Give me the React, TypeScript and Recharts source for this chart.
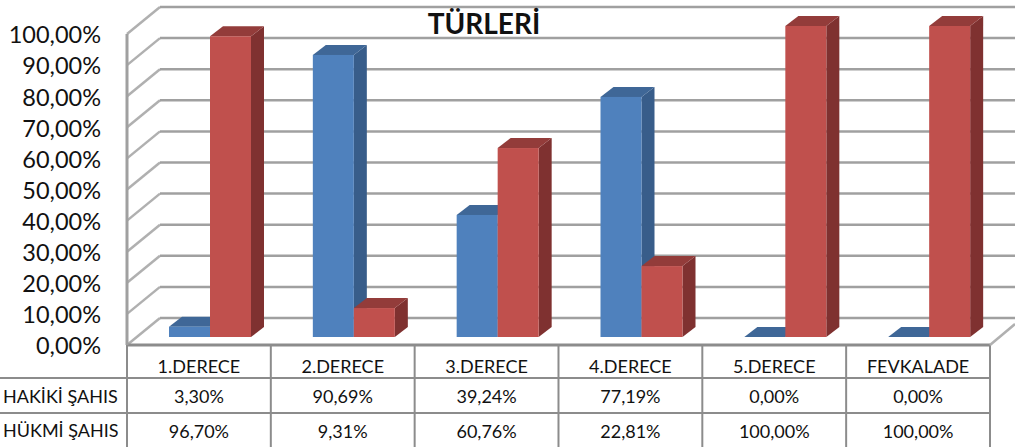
import { BarChart, Bar, XAxis, YAxis, CartesianGrid } from "recharts";

const categories = ["1.DERECE", "2.DERECE", "3.DERECE", "4.DERECE", "5.DERECE", "FEVKALADE"];
const hakiki = [3.3, 90.69, 39.24, 77.19, 0, 0];
const hukmi = [96.7, 9.31, 60.76, 22.81, 100, 100];
const yTicks = [0, 10, 20, 30, 40, 50, 60, 70, 80, 90, 100];
const rowNames = ["HAKİKİ ŞAHIS", "HÜKMİ ŞAHIS"];

const data = categories.map((name, i) => ({ name, hakiki: hakiki[i], hukmi: hukmi[i] }));

const W = 1015;
const H = 447;
const FONT = "Lato, Carlito, sans-serif";
const LINE = "#8c8c8c";
const fmt = (v: number) => v.toFixed(2).replace(".", ",") + "%";

// depth of the fake 3d floor
const WALL_X = 33;
const WALL_Y = -27;
// bars stand a bit inside the floor
const BAR_DX = 11;
const BAR_DY = -8;
const SIDE_X = 13;
const SIDE_Y = -10;

const Box3D = (props: any) => {
  const { x, y, width, height, face, side, top } = props;
  const l = x + BAR_DX;
  const r = l + width;
  const t = y + BAR_DY;
  const b = t + height;
  return (
    <g>
      <path
        d={`M${r},${t} L${r + SIDE_X},${t + SIDE_Y} L${r + SIDE_X},${b + SIDE_Y} L${r},${b} Z`}
        fill={side}
      />
      <path
        d={`M${l},${t} L${l + SIDE_X},${t + SIDE_Y} L${r + SIDE_X},${t + SIDE_Y} L${r},${t} Z`}
        fill={top}
      />
      <rect x={l} y={t} width={width} height={height} fill={face} />
    </g>
  );
};

const WallLine = (props: any) => {
  const { x1, x2, y1 } = props;
  return (
    <g>
      <line x1={x1} y1={y1} x2={x1 + WALL_X} y2={y1 + WALL_Y} stroke="#b0b0b0" strokeWidth={2.5} />
      <line x1={x1 + WALL_X} y1={y1 + WALL_Y} x2={x2 + WALL_X} y2={y1 + WALL_Y} stroke="#a0a0a0" strokeWidth={2.5} />
    </g>
  );
};

const TableTick = (props: any) => {
  const { x, y, index, payload } = props;
  const colW = 143.8;
  const left = x - colW / 2;
  const top = y;
  const rows = [payload.value, fmt(hakiki[index]), fmt(hukmi[index])];
  const rowY = [top + 23, top + 53, top + 88];
  return (
    <g>
      <line x1={left + colW} y1={top} x2={left + colW} y2={H} stroke={LINE} strokeWidth={2} />
      {rows.map((t, i) => (
        <text
          key={i}
          x={x}
          y={rowY[i]}
          textAnchor="middle"
          dominantBaseline="middle"
          fontSize={18}
          fontFamily={FONT}
          fill="#111"
        >
          {t}
        </text>
      ))}
    </g>
  );
};

export default function App() {
  return (
    <div style={{ position: "absolute", left: 0, top: 0, width: W, height: H, background: "#fff", overflow: "hidden" }}>
      <BarChart
        width={W}
        height={H}
        data={data}
        barSize={41}
        barGap={0}
        margin={{ top: 34, right: 25, bottom: 0, left: 0 }}
      >
        <CartesianGrid vertical={false} horizontalValues={yTicks} horizontal={(p: any) => <WallLine {...p} />} />
        <XAxis
          dataKey="name"
          height={102}
          interval={0}
          tickLine={false}
          tickSize={0}
          tickMargin={0}
          axisLine={{ stroke: LINE, strokeWidth: 3 }}
          tick={<TableTick />}
        />
        <YAxis
          width={127}
          domain={[0, 100]}
          ticks={yTicks}
          interval={0}
          tickFormatter={fmt}
          tickLine={false}
          tickSize={0}
          tickMargin={26}
          axisLine={{ stroke: "#a0a0a0", strokeWidth: 3 }}
          tick={{ fontSize: 23.5, fontFamily: FONT, fill: "#111", dy: 1 }}
        />
        <Bar
          dataKey="hakiki"
          isAnimationActive={false}
          shape={<Box3D face="#4f81bd" side="#385d8a" top="#3f6797" />}
        />
        <Bar
          dataKey="hukmi"
          isAnimationActive={false}
          shape={<Box3D face="#c0504d" side="#7f3130" top="#933c3a" />}
        />
      </BarChart>

      {/* right edge of the floor, table rules and text that has no axis */}
      <svg width={W} height={H} style={{ position: "absolute", left: 0, top: 0, pointerEvents: "none" }}>
        <line x1={990} y1={345} x2={1015} y2={324} stroke="#b0b0b0" strokeWidth={2.5} />
        <line x1={127} y1={345} x2={127} y2={H} stroke={LINE} strokeWidth={2} />
        <line x1={0} y1={378} x2={990} y2={378} stroke={LINE} strokeWidth={2} />
        <line x1={0} y1={413} x2={990} y2={413} stroke={LINE} strokeWidth={2} />
        {rowNames.map((t, i) => (
          <text key={t} x={3} y={398 + i * 34} dominantBaseline="middle" fontSize={18} fontFamily={FONT} fill="#111">
            {t}
          </text>
        ))}
        <text x={484} y={27} textAnchor="middle" dominantBaseline="middle" fontSize={28} fontWeight={700} fontFamily={FONT} fill="#111">
          TÜRLERİ
        </text>
      </svg>
    </div>
  );
}
